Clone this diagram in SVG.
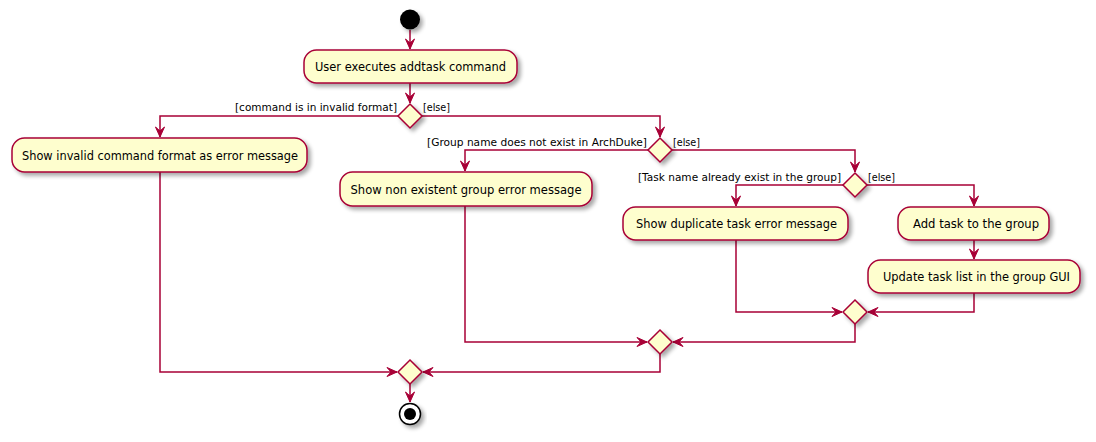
<svg xmlns="http://www.w3.org/2000/svg" width="1096" height="442" viewBox="0 0 1096 442">
<style>
.act{fill:#FEFECE;stroke:#A80036;stroke-width:1.5;filter:url(#sh)}
.dia{fill:#FEFECE;stroke:#A80036;stroke-width:1.5;filter:url(#sh)}
.edge{fill:none;stroke:#A80036;stroke-width:1.5;marker-end:url(#arr)}
.t{font-family:"DejaVu Sans","Liberation Sans",sans-serif;font-size:12px;fill:#000;text-anchor:middle}
.g{font-family:"DejaVu Sans","Liberation Sans",sans-serif;font-size:11px;fill:#000}
.gr{text-anchor:end}
</style>
<defs>
<filter id="sh" x="-20%" y="-20%" width="150%" height="170%">
<feGaussianBlur in="SourceAlpha" stdDeviation="2"/>
<feOffset dx="3" dy="3" result="o"/>
<feComponentTransfer><feFuncA type="linear" slope="0.35"/></feComponentTransfer>
<feMerge><feMergeNode/><feMergeNode in="SourceGraphic"/></feMerge>
</filter>
<marker id="arr" markerUnits="userSpaceOnUse" markerWidth="11" markerHeight="9" refX="10" refY="4.5" orient="auto" overflow="visible">
<path d="M0,0 L10,4.5 L0,9 L4,4.5 Z" fill="#A80036" stroke="#A80036" stroke-width="1"/>
</marker>
</defs>
<g id="connectors">
<path class="edge" d="M410,30 L410,49"/>
<path class="edge" d="M410,83 L410,103"/>
<path class="edge" d="M398,116 L160,116 L160,137"/>
<path class="edge" d="M422,116 L660,116 L660,137"/>
<path class="edge" d="M648,150 L465,150 L465,171"/>
<path class="edge" d="M672,150 L855,150 L855,172"/>
<path class="edge" d="M843,185 L736,185 L736,206"/>
<path class="edge" d="M867,185 L974,185 L974,206"/>
<path class="edge" d="M974,240 L974,259"/>
<path class="edge" d="M736,240 L736,312 L842,312"/>
<path class="edge" d="M974,293 L974,312 L868,312"/>
<path class="edge" d="M465,206 L465,342 L647,342"/>
<path class="edge" d="M855,324 L855,342 L673,342"/>
<path class="edge" d="M160,172 L160,372 L397,372"/>
<path class="edge" d="M660,354 L660,372 L423,372"/>
<path class="edge" d="M410,384 L410,402"/>
</g>
<g id="start"><circle cx="410" cy="19.5" r="10" fill="#000" filter="url(#sh)"/></g>
<g id="n1"><rect class="act" x="304" y="50" width="213" height="33" rx="12.5"/><text class="t" x="410.5" y="71" textLength="191" lengthAdjust="spacingAndGlyphs">User executes addtask command</text></g>
<g id="d1"><polygon class="dia" points="410,104 422,116 410,128 398,116"/>
<text class="g gr" x="397" y="111" textLength="162" lengthAdjust="spacingAndGlyphs">[command is in invalid format]</text>
<text class="g" x="423" y="111" textLength="27" lengthAdjust="spacingAndGlyphs">[else]</text></g>
<g id="n2"><rect class="act" x="12" y="138" width="295" height="34" rx="12.5"/><text class="t" x="160" y="159.5" textLength="276" lengthAdjust="spacingAndGlyphs">Show invalid command format as error message</text></g>
<g id="d2"><polygon class="dia" points="660,138 672,150 660,162 648,150"/>
<text class="g gr" x="647" y="146" textLength="220" lengthAdjust="spacingAndGlyphs">[Group name does not exist in ArchDuke]</text>
<text class="g" x="673" y="146" textLength="27" lengthAdjust="spacingAndGlyphs">[else]</text></g>
<g id="n3"><rect class="act" x="340" y="172" width="252" height="34" rx="12.5"/><text class="t" x="466" y="193.5" textLength="231" lengthAdjust="spacingAndGlyphs">Show non existent group error message</text></g>
<g id="d3"><polygon class="dia" points="855,173 867,185 855,197 843,185"/>
<text class="g gr" x="841" y="181" textLength="203" lengthAdjust="spacingAndGlyphs">[Task name already exist in the group]</text>
<text class="g" x="868" y="181" textLength="27" lengthAdjust="spacingAndGlyphs">[else]</text></g>
<g id="n4"><rect class="act" x="623" y="207" width="225" height="33" rx="12.5"/><text class="t" x="736.5" y="228" textLength="201" lengthAdjust="spacingAndGlyphs">Show duplicate task error message</text></g>
<g id="n5"><rect class="act" x="898" y="207" width="151" height="33" rx="12.5"/><text class="t" x="976" y="228" textLength="126" lengthAdjust="spacingAndGlyphs">Add task to the group</text></g>
<g id="n6"><rect class="act" x="868" y="260" width="212" height="33" rx="12.5"/><text class="t" x="976.5" y="281" textLength="187" lengthAdjust="spacingAndGlyphs">Update task list in the group GUI</text></g>
<g id="d4"><polygon class="dia" points="855,300 867,312 855,324 843,312"/></g>
<g id="d5"><polygon class="dia" points="660,330 672,342 660,354 648,342"/></g>
<g id="d6"><polygon class="dia" points="410,360 422,372 410,384 398,372"/></g>
<g id="end"><circle cx="410" cy="414" r="10.5" fill="#fff" stroke="#000" stroke-width="1.5" filter="url(#sh)"/><circle cx="410" cy="414" r="6" fill="#000"/></g>
</svg>
